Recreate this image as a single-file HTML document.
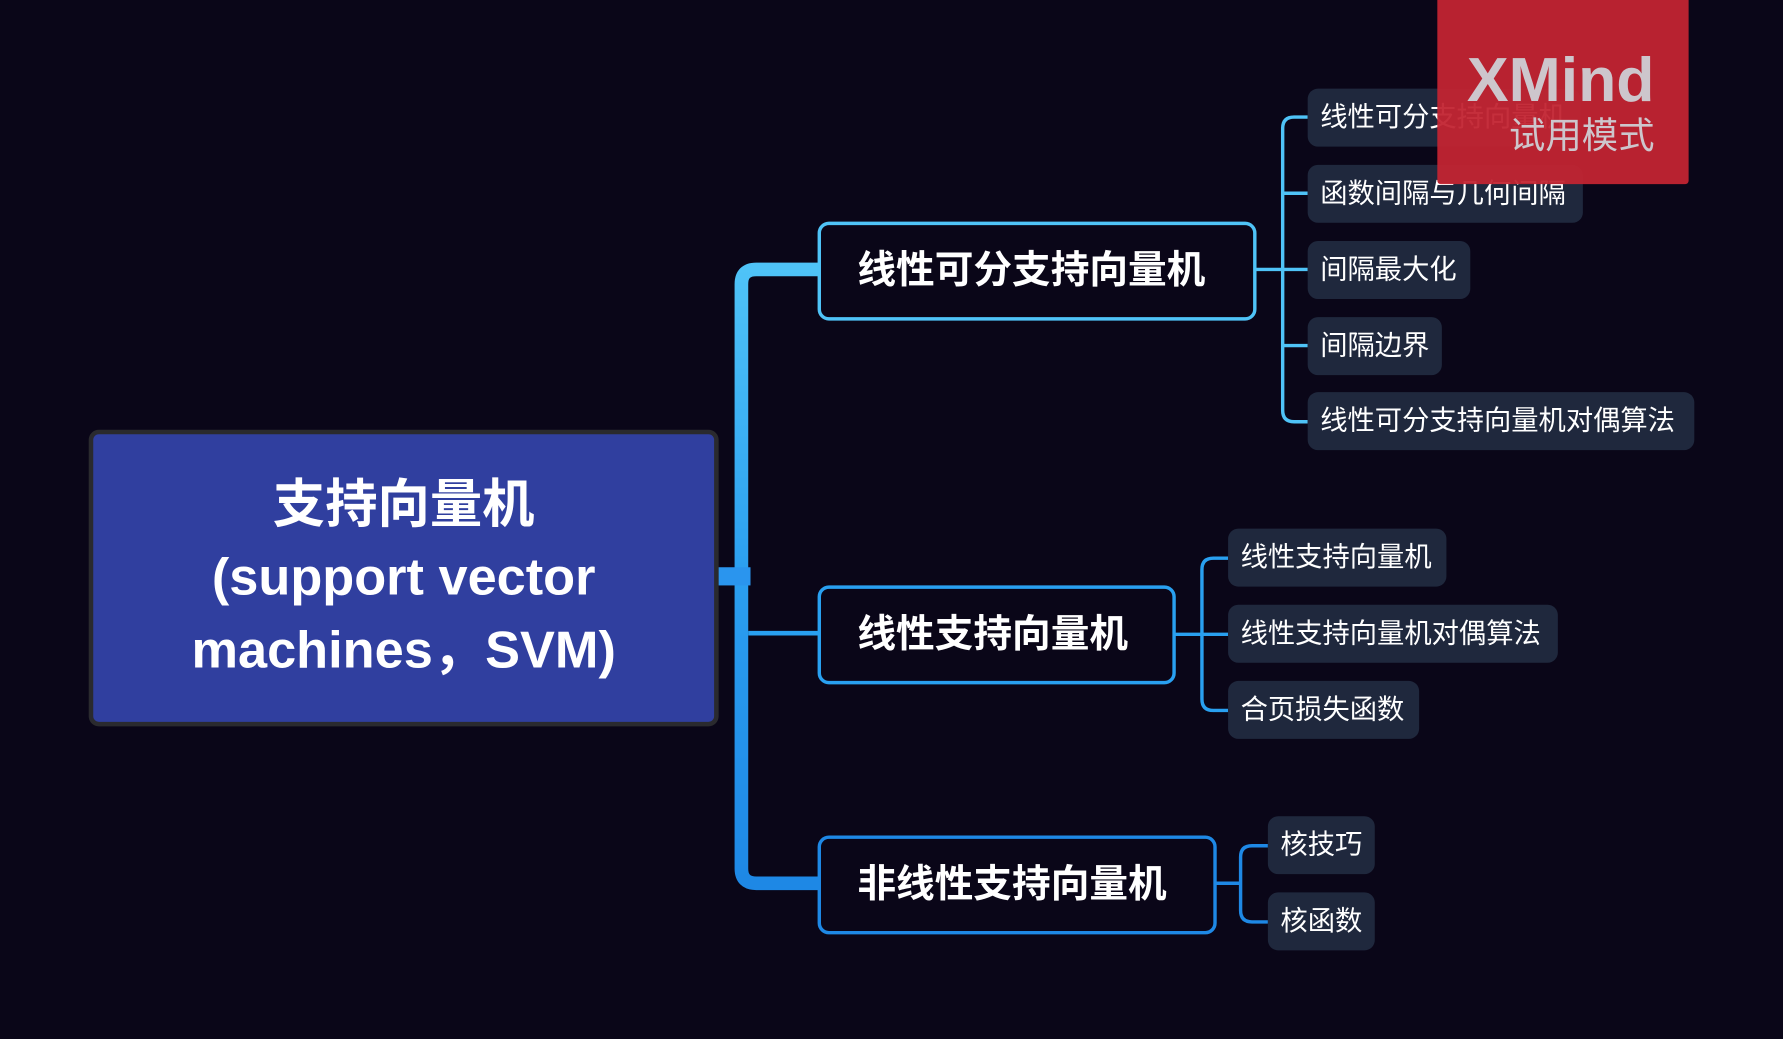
<!DOCTYPE html>
<html><head><meta charset="utf-8"><style>
html,body{margin:0;padding:0;background:#0a0618;width:1783px;height:1039px;overflow:hidden}
#w{position:absolute;left:0;top:0;width:1568px;height:914px;transform-origin:0 0;transform:scale(1.13712,1.13676);font-family:"Liberation Sans","Noto Sans CJK SC",sans-serif}
.b{position:absolute;box-sizing:border-box;border-radius:10px;border:3px solid;background:#0a0618;color:#fff;font-weight:bold;font-size:34px;line-height:80px;padding-left:32px}
.l{position:absolute;height:51px;border-radius:9px;background:#1f283d;color:#fff;font-size:24px;line-height:51px;padding-left:11px;box-sizing:border-box}
</style></head><body><div id="w">
<svg width="1568" height="914" style="position:absolute;left:0;top:0">
<defs><linearGradient id="g" x1="0" y1="0" x2="0" y2="1"><stop offset="0" stop-color="#4fc3f7"/><stop offset="0.5" stop-color="#2b9ff0"/><stop offset="1" stop-color="#1e88e5"/></linearGradient></defs>
<path d="M720 237 H665 Q652 237 652 250 V764 Q652 777 665 777 H720" fill="none" stroke="url(#g)" stroke-width="12"/>
<rect x="630" y="499" width="30" height="16" fill="#2a95ee"/>
<path d="M658 557 H720" stroke="#29a0f0" stroke-width="4"/>
<g fill="none" stroke="#4fc3f7" stroke-width="3"><path d="M1104 237 H1128"/><path d="M1150 103 H1138 Q1128 103 1128 113 V361 Q1128 371 1138 371 H1150"/><path d="M1128 170 Q1128 170 1150 170"/><path d="M1128 237 H1150"/><path d="M1128 304 H1150"/></g>
<g fill="none" stroke="#29a0f0" stroke-width="3"><path d="M1033 558 H1057"/><path d="M1080 491 H1067 Q1057 491 1057 501 V615 Q1057 625 1067 625 H1080"/><path d="M1057 558 H1080"/></g>
<g fill="none" stroke="#1e88e5" stroke-width="3"><path d="M1069 777 H1091"/><path d="M1115 744 H1101 Q1091 744 1091 754 V801 Q1091 811 1101 811 H1115"/></g>
</svg>
<div style="position:absolute;left:78px;top:378px;width:554px;height:261px;box-sizing:border-box;border:4px solid #2a2a2e;border-radius:9px;background:#303f9f;color:#fff;font-weight:bold;font-size:46px;line-height:64px;text-align:center;padding-top:29px">支持向量机<br>(support vector<br>machines，SVM)</div>
<div class="b" style="left:719px;top:195px;width:386px;height:87px;border-color:#4fc3f7">线性可分支持向量机</div>
<div class="b" style="left:719px;top:515px;width:315px;height:87px;border-color:#29a0f0">线性支持向量机</div>
<div class="b" style="left:719px;top:735px;width:351px;height:87px;border-color:#1e88e5">非线性支持向量机</div>
<div class="l" style="left:1150px;top:78px;width:240px">线性可分支持向量机</div>
<div class="l" style="left:1150px;top:145px;width:242px">函数间隔与几何间隔</div>
<div class="l" style="left:1150px;top:212px;width:143px">间隔最大化</div>
<div class="l" style="left:1150px;top:279px;width:118px">间隔边界</div>
<div class="l" style="left:1150px;top:345px;width:340px">线性可分支持向量机对偶算法</div>
<div class="l" style="left:1080px;top:465px;width:192px">线性支持向量机</div>
<div class="l" style="left:1080px;top:532px;width:290px">线性支持向量机对偶算法</div>
<div class="l" style="left:1080px;top:599px;width:168px">合页损失函数</div>
<div class="l" style="left:1115px;top:718px;width:94px">核技巧</div>
<div class="l" style="left:1115px;top:785px;width:94px">核函数</div>
<div style="position:absolute;left:1264px;top:0;width:221px;height:162px;background:rgba(194,36,50,0.95);border-radius:0 0 3px 3px;color:#cdc6cc;text-align:right;box-sizing:border-box;padding-right:30px">
<div style="font-size:55px;font-weight:bold;line-height:52px;margin-top:44px">XMind</div>
<div style="font-size:32px;line-height:40px;margin-top:3px">试用模式</div></div>
</div></body></html>
